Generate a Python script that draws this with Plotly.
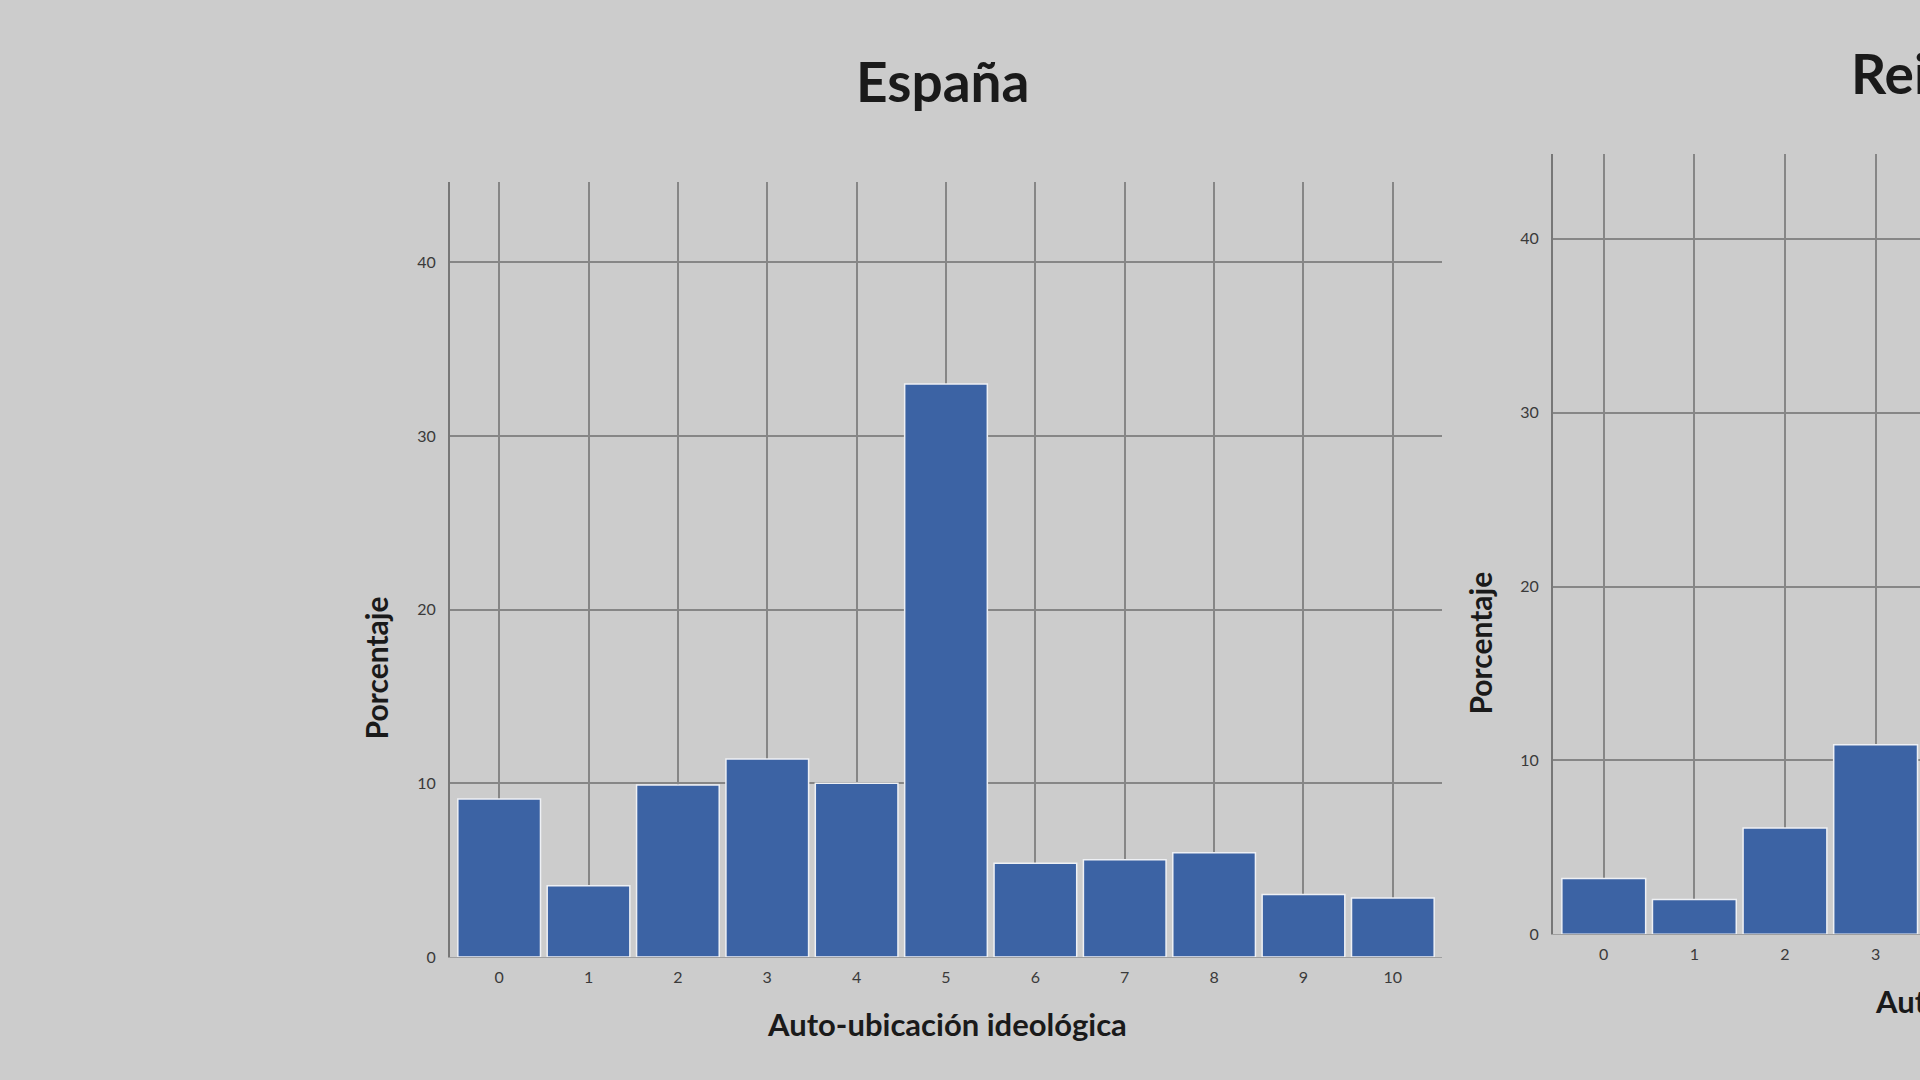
import plotly.graph_objects as go

# ---- data ----
categories = [0, 1, 2, 3, 4, 5, 6, 7, 8, 9, 10]
espana_pct = [9.1, 4.1, 9.9, 11.4, 10.0, 33.0, 5.4, 5.6, 6.0, 3.6, 3.4]

categories_right = [0, 1, 2, 3]
right_pct = [3.2, 2.0, 6.1, 10.9]

title_left = "España"
title_right = "Reino Unido"
x_title = "Auto-ubicación ideológica"
y_title = "Porcentaje"
y_ticks = [0, 10, 20, 30, 40]

# ---- styles ----
BG = "#cccccc"
BAR = "#3c63a4"
GRID = "#868686"
AXIS = "#777777"
FONT = "Lato"
W, H = 1920, 1080

fig = go.Figure()
fig.add_trace(go.Bar(x=categories, y=espana_pct, marker=dict(color=BAR, line=dict(color="#eef0f4", width=1.5)),
                     xaxis="x", yaxis="y", hoverinfo="x+y"))
fig.add_trace(go.Bar(x=categories_right, y=right_pct, marker=dict(color=BAR, line=dict(color="#eef0f4", width=1.5)),
                     xaxis="x2", yaxis="y2", hoverinfo="x+y"))

xcommon = dict(tickmode="array", tickvals=categories, ticktext=[str(c) for c in categories],
               showgrid=True, gridcolor=GRID, gridwidth=1.5, zeroline=False,
               showline=True, linecolor="#a0a0a0", linewidth=1, ticks="",
               ticklabelstandoff=6,
               tickfont=dict(family=FONT, size=16, color="#3a3a3a"), fixedrange=True)
ycommon = dict(tickmode="array", tickvals=y_ticks, ticktext=[str(t) for t in y_ticks],
               showgrid=True, gridcolor=GRID, gridwidth=1.5, zeroline=False,
               showline=True, linecolor=AXIS, linewidth=2, ticks="",
               tickfont=dict(family=FONT, size=16, color="#3a3a3a"), ticklabelstandoff=9,
               fixedrange=True)

fig.update_layout(
    width=W, height=H, autosize=False,
    paper_bgcolor=BG, plot_bgcolor=BG,
    margin=dict(l=0, r=0, t=0, b=0),
    showlegend=False, bargap=0.075,
    font=dict(family=FONT, color="#222222"),
    xaxis=dict(xcommon, domain=[450 / W, 1442 / W], range=[-0.55, 10.55], anchor="y"),
    yaxis=dict(ycommon, domain=[1 - 965 / H, 1 - 184 / H], range=[0, 44.6], anchor="x"),
    xaxis2=dict(xcommon, domain=[1553 / W, 1.0], range=[-0.56, 3.49], anchor="y2"),
    yaxis2=dict(ycommon, domain=[1 - 942 / H, 1 - 155 / H], range=[0, 44.9], anchor="x2"),
)

ann = [
    dict(text=f"<b>{title_left}</b>", x=943 / W, y=1 - 82 / H, xanchor="center", yanchor="middle",
         font=dict(size=55, family=FONT, color="#1a1a1a")),
    dict(text=f"<b>{title_right}</b>", x=1849 / W, y=1 - 74 / H, xanchor="left", yanchor="middle",
         font=dict(size=55, family=FONT, color="#1a1a1a")),
    dict(text=f"<b>{x_title}</b>", x=947 / W, y=1 - 1033 / H, xanchor="center", yanchor="middle",
         font=dict(size=31, family=FONT, color="#1a1a1a")),
    dict(text=f"<b>{x_title}</b>", x=1873 / W, y=1 - 1009 / H, xanchor="left", yanchor="middle",
         font=dict(size=31, family=FONT, color="#1a1a1a")),
    dict(text=f"<b>{y_title}</b>", x=376 / W, y=1 - 674 / H, xanchor="center", yanchor="middle",
         textangle=-90, font=dict(size=30, family=FONT, color="#1a1a1a")),
    dict(text=f"<b>{y_title}</b>", x=1480 / W, y=1 - 649 / H, xanchor="center", yanchor="middle",
         textangle=-90, font=dict(size=30, family=FONT, color="#1a1a1a")),
]
for a in ann:
    a.update(xref="paper", yref="paper", showarrow=False)
fig.update_layout(annotations=ann)

fig.write_html("out.html", config={"displayModeBar": False},
               post_script="document.body.style.margin='0';document.body.style.overflow='hidden';")
